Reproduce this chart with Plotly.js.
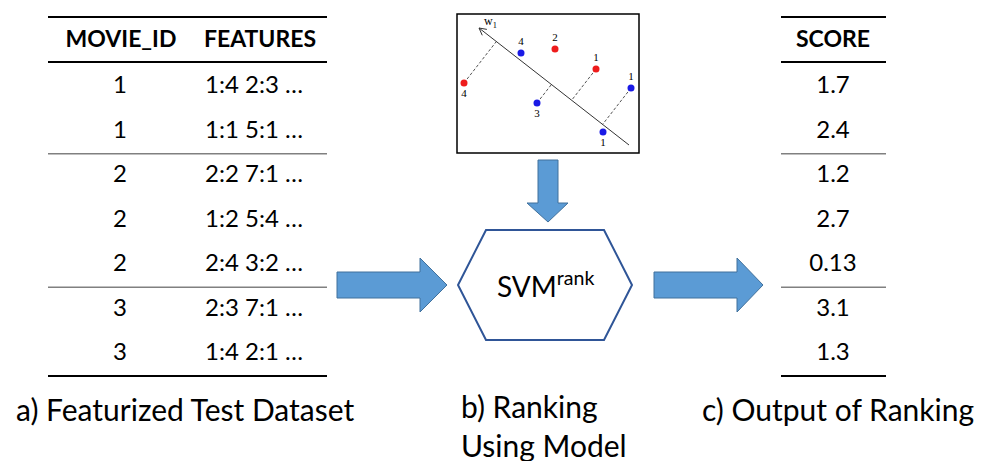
<!DOCTYPE html>
<html><head><meta charset="utf-8">
<script src="https://cdn.plot.ly/plotly-3.0.1.min.js"></script>
<style>html,body{margin:0;padding:0;background:#fff}#chart{width:985px;height:461px}</style>
</head><body><div id="chart"></div>
<script>
// ---- data ----
const movieIds = ["1","1","2","2","2","3","3"];
const features = ["1:4 2:3 …","1:1 5:1 …","2:2 7:1 …","1:2 5:4 …","2:4 3:2 …","2:3 7:1 …","1:4 2:1 …"];
const scores = ["1.7","2.4","1.2","2.7","0.13","3.1","1.3"];
const headers = ["MOVIE_ID","FEATURES","SCORE"];
const groupBreaks = [2,5]; // row index where a new movie group starts
const captions = ["a) Featurized Test Dataset","b) Ranking<br>Using Model","c) Output of Ranking"];
// inset (SVM illustration), in inset units
const ptX = [7,64,98,139,174,80,146];
const ptY = [69,39,35,55,74,89,118];
const ptLabel = ["4","4","2","1","1","3","1"];
const ptClass = ["r","b","r","r","b","b","b"];
const ptLabelPos = ["bottom center","top center","top center","top center","top center","bottom center","bottom center"];
const projected = [0,3,4,5]; // points with dashed projection onto w
const wLine = {x0:172,y0:131,x1:22,y1:14};

// ---- layout helpers ----
const FONT = "Lato, 'Open Sans', sans-serif";
const SERIF = "'Liberation Serif', 'DejaVu Serif', serif";
const rowY = i => 87 + i*44.5;
const headY = 41;
const traces = [];
const txt = (x,y,text,size)=>({type:'scatter',mode:'text',x,y,text,textposition:'middle center',
  textfont:{family:FONT,size,color:'#000'},hoverinfo:'skip',showlegend:false});
traces.push(txt(movieIds.map(()=>120),movieIds.map((_,i)=>rowY(i)),movieIds,24));
traces.push(txt(features.map(()=>254),features.map((_,i)=>rowY(i)),features,24));
traces.push(txt(scores.map(()=>833),scores.map((_,i)=>rowY(i)),scores,24));
traces.push(txt([121,260,833],[headY,headY,headY],headers.map(h=>'<b>'+h+'</b>'),23));

// inset: dashed projections
const dx = wLine.x1-wLine.x0, dy = wLine.y1-wLine.y0, L2 = dx*dx+dy*dy;
projected.forEach(i=>{
  const t = ((ptX[i]-wLine.x0)*dx + (ptY[i]-wLine.y0)*dy)/L2;
  traces.push({type:'scatter',mode:'lines',xaxis:'x2',yaxis:'y2',
    x:[ptX[i], wLine.x0+t*dx], y:[ptY[i], wLine.y0+t*dy],
    line:{color:'#555',width:1,dash:'3px,2px'},hoverinfo:'skip',showlegend:false});
});
// w line
traces.push({type:'scatter',mode:'lines',xaxis:'x2',yaxis:'y2',x:[wLine.x0,wLine.x1],y:[wLine.y0,wLine.y1],
  line:{color:'#333',width:1},hoverinfo:'skip',showlegend:false});
// open arrowhead at tip of w
(function(){
  const L = Math.sqrt(L2), ux = -dx/L, uy = -dy/L, len = 8, a = 28*Math.PI/180;
  const rot = s=>[wLine.x1 + len*(ux*Math.cos(s*a) - uy*Math.sin(s*a)), wLine.y1 + len*(ux*Math.sin(s*a) + uy*Math.cos(s*a))];
  const p1 = rot(1), p2 = rot(-1);
  traces.push({type:'scatter',mode:'lines',xaxis:'x2',yaxis:'y2',x:[p1[0],wLine.x1,p2[0]],y:[p1[1],wLine.y1,p2[1]],
    line:{color:'#333',width:1},hoverinfo:'skip',showlegend:false});
})();
// points
['r','b'].forEach(c=>{
  const idx = ptClass.map((v,i)=>v===c?i:-1).filter(i=>i>=0);
  traces.push({type:'scatter',mode:'markers+text',xaxis:'x2',yaxis:'y2',
    x:idx.map(i=>ptX[i]),y:idx.map(i=>ptY[i]),text:idx.map(i=>ptLabel[i]),
    textposition:idx.map(i=>ptLabelPos[i]),
    textfont:{family:SERIF,size:11,color:'#000'},
    marker:{size:7,color:c==='r'?'#ee1c1c':'#1a1ae6'},hoverinfo:'skip',showlegend:false});
});

// ---- shapes ----
const shapes = [];
const hl = (x0,x1,y,color,w)=>shapes.push({type:'line',xref:'x',yref:'y',x0,x1,y0:y,y1:y,line:{color,width:w}});
[[48,327],[781,886]].forEach(([a,b])=>{
  hl(a,b,17,'#000',2); hl(a,b,62,'#000',2); hl(a,b,376,'#000',2);
  groupBreaks.forEach(g=>hl(a,b,(rowY(g-1)+rowY(g))/2,'#808080',1.5));
});
// inset box
shapes.push({type:'rect',xref:'x',yref:'y',x0:457,x1:639,y0:14,y1:153,line:{color:'#000',width:1.5}});
// arrows
const blue = '#5b9bd5', blueLine = '#41719c';
const rArrow = (x0,xh,xt)=>`M${x0},272 L${xh},272 L${xh},258 L${xt},285 L${xh},312 L${xh},298 L${x0},298 Z`;
shapes.push({type:'path',xref:'x',yref:'y',path:rArrow(337,420,447),fillcolor:blue,line:{color:blueLine,width:1}});
shapes.push({type:'path',xref:'x',yref:'y',path:rArrow(654,737,763),fillcolor:blue,line:{color:blueLine,width:1}});
shapes.push({type:'path',xref:'x',yref:'y',path:'M538,160 L558,160 L558,203 L568,203 L548,222 L527,203 L538,203 Z',fillcolor:blue,line:{color:blueLine,width:1}});
// hexagon
shapes.push({type:'path',xref:'x',yref:'y',path:'M486,230 L604,230 L632,285 L604,340 L486,340 L458,285 Z',line:{color:'#2f5597',width:2}});

// ---- annotations ----
const annotations = [
  {xref:'x',yref:'y',x:545,y:284,text:'SVM<sup>rank</sup>',showarrow:false,font:{family:FONT,size:28,color:'#000'}},
  {xref:'x',yref:'y',x:185,y:409,text:captions[0],showarrow:false,font:{family:FONT,size:30,color:'#000'}},
  {xref:'x',yref:'y',x:459,y:425,xanchor:'left',align:'left',text:captions[1],showarrow:false,font:{family:FONT,size:30,color:'#000'}},
  {xref:'x',yref:'y',x:838,y:409,text:captions[2],showarrow:false,font:{family:FONT,size:30,color:'#000'}},
  {xref:'x2',yref:'y2',x:33,y:8,text:'w<sub>1</sub>',showarrow:false,font:{family:SERIF,size:12,color:'#000'}}
];

const layout = {
  width:985,height:461,margin:{l:0,r:0,t:0,b:0},paper_bgcolor:'#fff',plot_bgcolor:'#fff',
  xaxis:{range:[0,985],domain:[0,1],visible:false,fixedrange:true},
  yaxis:{range:[461,0],domain:[0,1],visible:false,fixedrange:true},
  xaxis2:{range:[0,182],domain:[457/985,639/985],anchor:'y2',visible:false},
  yaxis2:{range:[139,0],domain:[1-153/461,1-14/461],anchor:'x2',visible:false},
  shapes,annotations,showlegend:false
};
Plotly.newPlot('chart',traces,layout,{staticPlot:true});
</script></body></html>
